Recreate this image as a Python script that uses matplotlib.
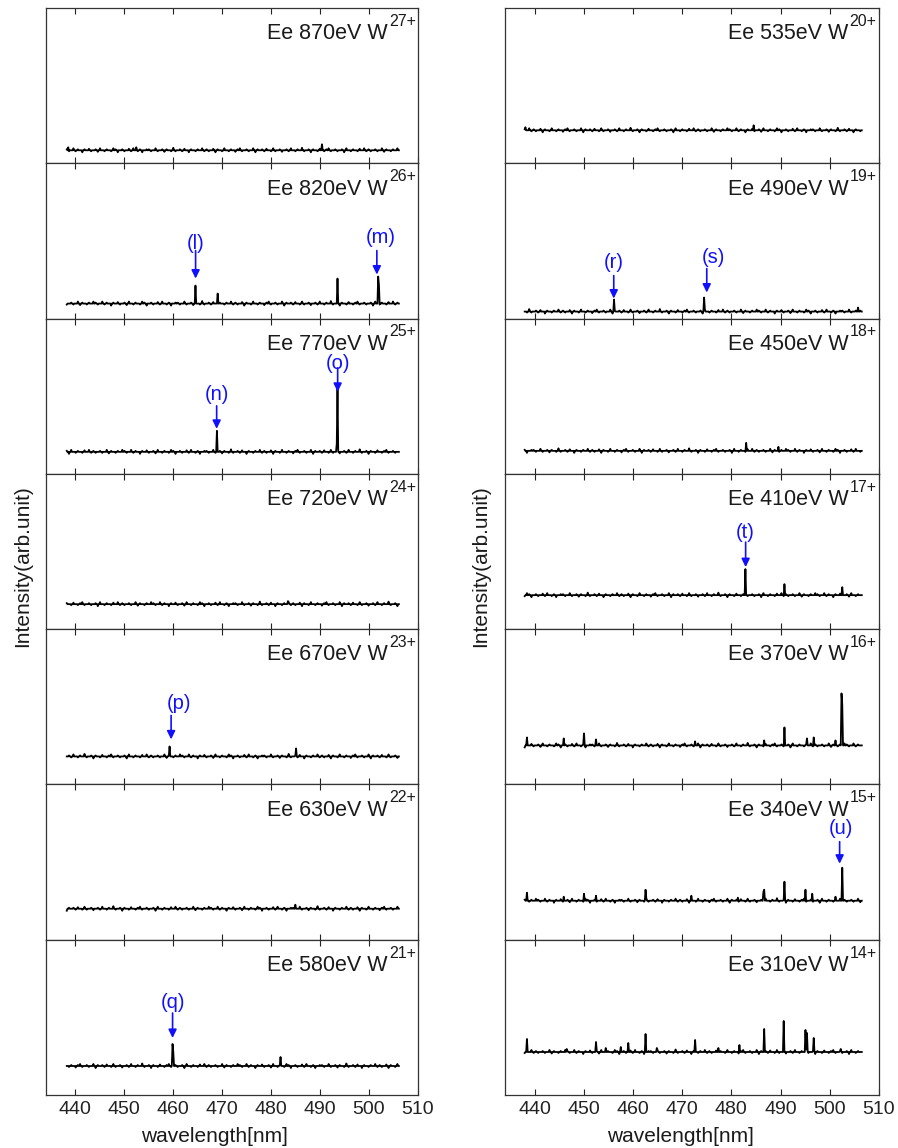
import matplotlib.pyplot as plt
import numpy as np

plt.rcParams['font.family'] = ['Liberation Sans', 'DejaVu Sans']

# electron energies and tungsten charge states, top to bottom
left_energy = [870, 820, 770, 720, 670, 630, 580]
left_charge = [27, 26, 25, 24, 23, 22, 21]
right_energy = [535, 490, 450, 410, 370, 340, 310]
right_charge = [20, 19, 18, 17, 16, 15, 14]

# line peaks (wavelength nm, intensity arb.) per panel
left_peaks = [
    [(490.4, 6), (438.6, 3), (452.5, 3)],
    [(464.6, 18), (469.1, 10), (493.6, 25), (501.8, 27), (502.0, 19)],
    [(468.9, 21), (493.4, 8), (493.6, 63)],
    [(483.5, 3)],
    [(459.3, 10), (485.1, 8)],
    [(485.0, 4)],
    [(459.9, 22), (460.1, 14), (482.0, 9)],
]
right_peaks = [
    [(484.5, 5), (438.2, 3)],
    [(456.1, 12), (474.4, 14), (505.7, 4)],
    [(483.0, 8), (489.5, 4)],
    [(482.9, 26), (490.8, 11), (502.6, 8)],
    [(438.4, 8), (445.9, 7), (450.1, 12), (452.5, 6), (472.6, 4), (486.6, 5),
     (490.8, 18), (495.3, 7), (496.7, 8), (501.2, 5), (502.4, 52), (502.6, 41)],
    [(438.4, 8), (446.0, 4), (450.1, 7), (452.5, 5), (462.6, 11), (471.9, 5),
     (481.4, 3), (486.5, 9), (486.6, 11), (490.8, 19), (495.1, 11), (496.5, 7),
     (501.2, 4), (502.6, 33)],
    [(438.5, 13), (446.5, 3), (452.5, 10), (454.5, 4), (457.6, 5), (459.0, 9),
     (462.5, 18), (464.8, 4), (472.6, 12), (477.4, 4), (481.6, 7), (486.6, 23),
     (490.7, 31), (495.1, 22), (495.3, 19), (496.7, 14), (502.3, 3)],
]

# baseline fluctuation
ripple = [1, -1, 0, 2, -1, 1, 0, -2, 1, 0, 1.5, -1, 0, 1, -1.5, 2, 0, -1, 1, 0,
          -1, 2, 1, -2, 0, 1, -1, 0, 1.5, -1, 2, 0, -1, 1, -2, 0, 1, 1, -1, 0,
          2, -1, 0, 1, -1.5, 1, 0, -1, 2.5, -1, 0, 1, -1, 1.5, 0, -2, 1, 0, -1, 1,
          0, 2, -1, 1, -1, 0, 1.5, -2, 1, 0, -1, 2, 0, -1, 1, 0, -1.5, 1, 2, -1,
          0, 1, -1, 0, 2, -2, 1, 0, 1, -1, 1.5, 0, -1, 2, -1, 0, 1, -1.5, 0, 1,
          -1, 2, 0, -1, 1, 0, 2.5, -1, 0, 1, -2, 1, 0, -1, 1.5, 0, -1, 1, 2, -1,
          0, 1, -1, 0, 1, -2, 2, 0, -1, 1, 0, -1, 1.5, 0, 2, -1, 1, -1, 0, 1,
          -1, 0, 2, -1.5, 1, 0, -1, 1, 0, 2]

# labelled lines: (column, row, label, arrow x, text x, text y, tail y, tip y)
marks = [
    (0, 1, '(l)', 464.6, 464.6, 60, 53, 25),
    (0, 1, '(m)', 501.6, 502.4, 66, 53, 29),
    (0, 2, '(n)', 468.9, 468.9, 57, 46, 23),
    (0, 2, '(o)', 493.6, 493.6, 88, 84, 60),
    (0, 4, '(p)', 459.6, 461.3, 53, 41, 17),
    (0, 6, '(q)', 459.9, 460.0, 63, 53, 28),
    (1, 1, '(r)', 456.1, 456.1, 49, 36, 13),
    (1, 1, '(s)', 475.0, 476.3, 54, 43, 19),
    (1, 3, '(t)', 482.9, 482.9, 63, 53, 28),
    (1, 5, '(u)', 502.0, 502.3, 72, 59, 37),
]

# layout (pixels)
W, H = 898, 1148
col_x = [(45.7, 418.0), (505.0, 879.0)]
top, bot = 8.0, 1095.0
ph = (bot - top) / 7
left_base = [13, 15, 22, 25, 28, 31, 29]
right_base = [33, 7, 23, 34, 39, 39, 43]
blue = '#1010ff'

fig = plt.figure(figsize=(W / 100, H / 100), dpi=100)

columns = [
    (left_energy, left_charge, left_peaks, left_base, (438.3, 506.1), 0.919),
    (right_energy, right_charge, right_peaks, right_base, (438.0, 506.5), 0.918),
]
axes = {}
for c, (energy, charge, peaks, base, span, wx) in enumerate(columns):
    x0, x1 = col_x[c]
    for r in range(7):
        ax = fig.add_axes([x0 / W, 1 - (top + (r + 1) * ph) / H,
                           (x1 - x0) / W, ph / H])
        axes[(c, r)] = ax
        x = np.linspace(span[0], span[1], len(ripple) * 3)
        y = np.zeros_like(x)
        y[::3] = np.roll(ripple, 13 * (r + 7 * c))
        for w, h in peaks[r]:
            y[np.argmin(np.abs(x - w))] = h
        ax.plot(x, y, color='black', lw=1.3)
        ax.set_xlim(434, 510)
        ax.set_ylim(-base[r], ph - base[r])
        ax.set_xticks(range(440, 511, 10))
        ax.set_yticks([])
        ax.tick_params(axis='x', direction='in', top=True, bottom=True,
                       length=4.5, width=0.8, labelsize=14, pad=4,
                       labelbottom=(r == 6), colors='#222222')
        for s in ax.spines.values():
            s.set_color('#333333')
            s.set_linewidth(0.9)
        ax.text(wx, 0.7985, f'Ee {energy[r]}eV W', transform=ax.transAxes,
                ha='right', va='baseline', fontsize=15.5, color='#1a1a1a')
        ax.text(wx + 0.003, 0.885, f'{charge[r]}+', transform=ax.transAxes,
                ha='left', va='baseline', fontsize=11.5, color='#1a1a1a')

for c, r, lab, xa, xt, yt, y0, y1 in marks:
    ax = axes[(c, r)]
    ax.text(xt, yt, lab, ha='center', va='center', fontsize=14.5, color=blue)
    ax.annotate('', xy=(xa, y1), xytext=(xa, y0),
                arrowprops=dict(arrowstyle='-|>,head_length=0.45,head_width=0.22',
                                color=blue, lw=1.2, mutation_scale=11,
                                shrinkA=0, shrinkB=0))

for xc in (23, 481):
    fig.text(xc / W, 1 - 566 / H, 'Intensity(arb.unit)', rotation=90,
             ha='center', va='center', fontsize=15, color='#1a1a1a')
for xc in (214, 680):
    fig.text(xc / W, 1 - 1136.7 / H, 'wavelength[nm]', ha='center',
             va='center', fontsize=15, color='#1a1a1a')

fig.savefig('out.png', dpi=100)
